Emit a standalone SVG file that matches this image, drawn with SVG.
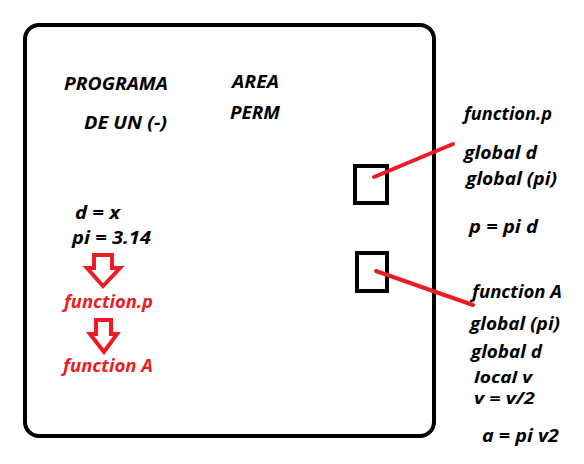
<svg xmlns="http://www.w3.org/2000/svg" width="584" height="464" viewBox="0 0 584 464">
<style>
.t{font-family:"Open Sans","Noto Sans","DejaVu Sans",sans-serif;font-weight:bold;font-style:italic;font-size:18px;fill:#000}
.s{font-size:16.5px}
.r{fill:#ED1C24}
.box{fill:none;stroke:#000;stroke-width:4}
.arr{fill:#fff;stroke:#ED1C24;stroke-width:4;stroke-linejoin:miter}
.ln{stroke:#ED1C24;stroke-width:4;stroke-linecap:round}
</style>
<rect width="584" height="464" fill="#fff"/>
<g id="frame"><rect x="25" y="25" width="409" height="411" rx="14" class="box"/></g>
<g id="title">
<text class="t" x="64" y="90" textLength="104" lengthAdjust="spacingAndGlyphs">PROGRAMA</text>
<text class="t" x="84" y="129" textLength="83" lengthAdjust="spacingAndGlyphs">DE UN (-)</text>
</g>
<g id="area">
<text class="t" x="232" y="88" textLength="47" lengthAdjust="spacingAndGlyphs">AREA</text>
<text class="t" x="230" y="119" textLength="50" lengthAdjust="spacingAndGlyphs">PERM</text>
</g>
<g id="code">
<text class="t" x="75" y="219" textLength="45" lengthAdjust="spacingAndGlyphs">d = x</text>
<text class="t" x="72" y="244" textLength="79" lengthAdjust="spacingAndGlyphs">pi = 3.14</text>
</g>
<g id="fp"><text class="t r" x="64" y="308" textLength="89" lengthAdjust="spacingAndGlyphs">function.p</text></g>
<g id="fa"><text class="t r" x="63" y="372" textLength="90" lengthAdjust="spacingAndGlyphs">function A</text></g>
<g id="box1"><rect x="355" y="166" width="32" height="37" class="box"/></g>
<g id="box2"><rect x="357" y="253" width="30" height="38" class="box"/></g>
<g id="connectors">
<polygon class="arr" points="94,255 112,255 112,268 120,268 103,286 87,268 94,268"/>
<polygon class="arr" points="96,320 111,320 111,334 117,334 104,352 90,334 96,334"/>
<line class="ln" x1="374" y1="177" x2="453" y2="144"/>
<line class="ln" x1="376" y1="271" x2="473" y2="305"/>
</g>
<g id="notes-p">
<text class="t" x="464" y="120" textLength="88" lengthAdjust="spacingAndGlyphs">function.p</text>
<text class="t" x="464" y="159" textLength="73" lengthAdjust="spacingAndGlyphs">global d</text>
<text class="t" x="466" y="185" textLength="91" lengthAdjust="spacingAndGlyphs">global (pi)</text>
<text class="t" x="469" y="233" textLength="69" lengthAdjust="spacingAndGlyphs">p = pi d</text>
</g>
<g id="notes-a">
<text class="t" x="472" y="298" textLength="90" lengthAdjust="spacingAndGlyphs">function A</text>
<text class="t" x="470" y="330" textLength="90" lengthAdjust="spacingAndGlyphs">global (pi)</text>
<text class="t" x="471" y="358" textLength="71" lengthAdjust="spacingAndGlyphs">global d</text>
<text class="t s" x="474" y="383" textLength="58" lengthAdjust="spacingAndGlyphs">local v</text>
<text class="t s" x="474" y="404" textLength="61" lengthAdjust="spacingAndGlyphs">v = v/2</text>
<text class="t" x="482" y="442" textLength="77" lengthAdjust="spacingAndGlyphs">a = pi v2</text>
</g>
</svg>
